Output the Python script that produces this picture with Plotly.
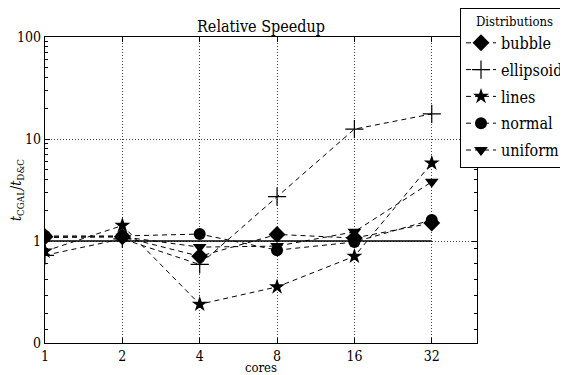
import numpy as np
import plotly.graph_objects as go

cores = [1, 2, 4, 8, 16, 32]
bubble = [1.10, 1.10, 0.85, 1.16, 1.07, 1.50]
ellipsoid = [0.86, 1.05, 0.77, 2.72, 12.5, 17.6]
lines = [0.90, 1.42, 0.38, 0.55, 0.85, 5.8]
normal = [1.12, 1.12, 1.17, 0.91, 0.99, 1.61]
uniform = [1.08, 1.10, 0.94, 0.95, 1.23, 3.8]

series = [
    ("bubble", bubble, "diamond", 13),
    ("ellipsoid", ellipsoid, "cross-thin", 13),
    ("lines", lines, "star", 12),
    ("normal", normal, "circle", 12),
    ("uniform", uniform, "triangle-down", 12),
]

y_ticks = [0, 1, 10, 100]


def symlog(v):
    v = np.asarray(v, dtype=float)
    return np.where(v <= 1, v, 1 + np.log10(np.maximum(v, 1e-12)))


FONT = "DejaVu Serif Condensed"
fig = go.Figure()

# reference line at 1
fig.add_trace(go.Scatter(x=[cores[0], cores[-1]], y=symlog([1, 1]), mode="lines",
                         line=dict(color="black", width=1.3), showlegend=False,
                         hoverinfo="skip"))

for name, vals, sym, size in series:
    mk = dict(symbol=sym, size=size, color="black",
              line=dict(color="black", width=1.2 if sym == "cross-thin" else 0))
    fig.add_trace(go.Scatter(x=cores, y=symlog(vals), name=name, mode="lines+markers",
                             legendgroup=name,
                             line=dict(color="black", width=1, dash="5px,4px"),
                             marker=mk))

minor_vals = list(symlog([k * 10 ** d for d in range(0, 2) for k in range(2, 10)]))
minor_vals += [0.13, 0.29, 0.47, 0.62, 0.78, 0.93]

W, H = 560, 367
L, T = 37, 29
PW, PH = 432, 306

fig.update_layout(
    width=W, height=H,
    margin=dict(l=L, r=W - L - PW, t=T, b=H - T - PH, autoexpand=False),
    paper_bgcolor="white", plot_bgcolor="white",
    font=dict(family=FONT, size=14, color="black"),
    title=dict(text="Relative Speedup", x=(L + PW / 2) / W, xanchor="center",
               y=1 - 18 / H, yanchor="middle", font=dict(size=16, family=FONT)),
    showlegend=True,
    legend=dict(x=(452 - L) / PW, y=1 + T / PH, xanchor="left", yanchor="top",
                bordercolor="black", borderwidth=1, bgcolor="white",
                font=dict(size=16, family=FONT),
                title=dict(text="Distributions", side="top center",
                           font=dict(size=13, family=FONT)),
                traceorder="grouped", tracegroupgap=3,
                itemwidth=30),
)

GRID = dict(showgrid=True, gridcolor="#444", griddash="1px,2px", gridwidth=1)

fig.update_xaxes(type="log", range=[0, np.log10(48)],
                 tickvals=cores, ticktext=[str(c) for c in cores],
                 showline=True, linecolor="black", linewidth=1.2, mirror="ticks",
                 ticks="inside", ticklen=5, tickcolor="black",
                 zeroline=False, **GRID,
                 title=dict(text="cores", standoff=3, font=dict(size=13)))

fig.update_yaxes(range=[0, 3], tickvals=list(symlog(y_ticks)),
                 ticktext=[str(t) for t in y_ticks],
                 showline=True, linecolor="black", linewidth=1.2, mirror="ticks",
                 ticks="inside", ticklen=5, tickcolor="black",
                 zeroline=False, **GRID,
                 minor=dict(tickvals=minor_vals, ticks="inside", ticklen=3,
                            tickcolor="black", showgrid=False),
                 title=dict(text="<i>t</i><sub>CGAL</sub>/<i>t</i><sub>D&amp;C</sub>",
                            standoff=4, font=dict(size=14)))

fig.write_html("out.html")
